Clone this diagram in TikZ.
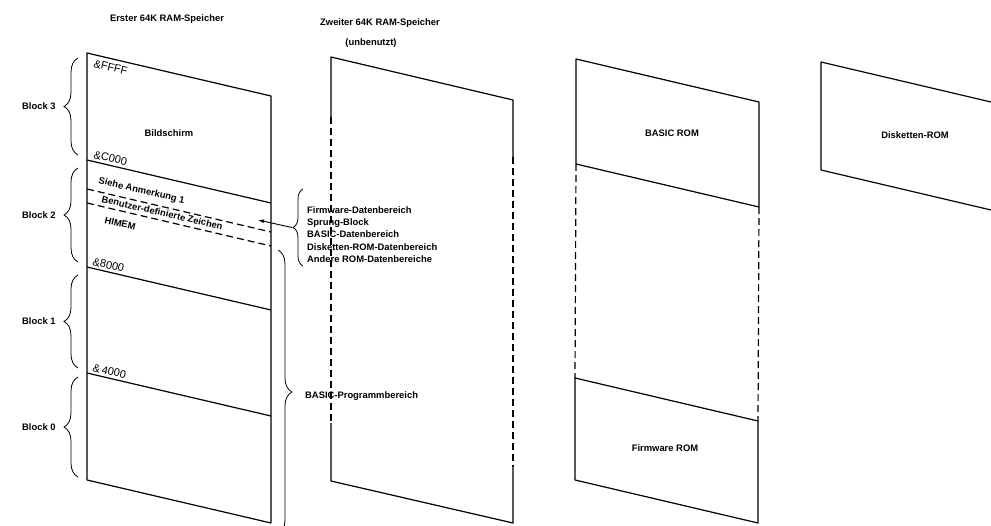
\documentclass[tikz,border=0pt]{standalone}
\usepackage{fontspec}
\setmainfont{Liberation Sans}
\usetikzlibrary{arrows.meta,positioning,decorations.pathreplacing}

\tikzset{
  mem_line/.style={line width=1.2pt,line join=round},
  mem_dash/.style={line width=1.2pt,dash pattern=on 7pt off 4pt},
  lbl/.style={font=\fontsize{9.4}{11}\selectfont\bfseries,inner sep=0pt},
  addr/.style={font=\fontsize{11}{12}\selectfont,inner sep=0pt,rotate=-13,anchor=base west},
  slant_lbl/.style={font=\fontsize{9.4}{11}\selectfont\bfseries,inner sep=0pt,rotate=-13,anchor=base west},
  brace_l/.style={decorate,decoration={brace,amplitude=#1},line width=0.8pt},
  brace_l/.default=14pt
}

\begin{document}
\begin{tikzpicture}[>=Latex,x=1pt,y=-1pt]
\useasboundingbox (0,0) rectangle (991,525);

% erster RAM
\coordinate (ra_tl) at (87,53);   \coordinate (ra_tr) at (271,96);
\coordinate (ra_c_l) at (87,160); \coordinate (ra_c_r) at (271,203);
\coordinate (ra_8_l) at (87,267); \coordinate (ra_8_r) at (271,310);
\coordinate (ra_4_l) at (87,373); \coordinate (ra_4_r) at (271,416);
\coordinate (ra_bl) at (87,480);  \coordinate (ra_br) at (271,523);
\coordinate (ra_d1_l) at (87,189); \coordinate (ra_d1_r) at (271,232);
\coordinate (ra_d2_l) at (87,203); \coordinate (ra_d2_r) at (271,246);
\draw[mem_line] (ra_tl) -- (ra_tr) -- (ra_br) -- (ra_bl) -- cycle;
\draw[mem_line] (ra_c_l) -- (ra_c_r);
\draw[mem_line] (ra_8_l) -- (ra_8_r);
\draw[mem_line] (ra_4_l) -- (ra_4_r);
\draw[mem_dash] (ra_d1_l) -- (ra_d1_r);
\draw[mem_dash] (ra_d2_l) -- (ra_d2_r);

\node[lbl] (ttl_a) at (167,19) {Erster 64K RAM-Speicher};
\node[lbl] (scr) at (169,133) {Bildschirm};
\node[addr] (adr_ffff) at (93,67) {\&FFFF};
\node[addr] (adr_c000) at (93,158) {\&C000};
\node[addr] (adr_8000) at (92,265) {\&8000};
\node[addr] (adr_4000) at (92,371) {\&\,4000};
\node[slant_lbl] (note_1) at (98,183.5) {Siehe Anmerkung 1};
\node[slant_lbl] (udg) at (101,202) {Benutzer-definierte Zeichen};
\node[slant_lbl] (himem) at (104,223) {HIMEM};

\draw[brace_l] (78,155) -- (78,58) node[midway,left=22pt,lbl] (blk_3) {Block 3};
\draw[brace_l] (78,262) -- (78,168) node[midway,left=22pt,lbl] (blk_2) {Block 2};
\draw[brace_l] (78,368) -- (78,275) node[midway,left=22pt,lbl] (blk_1) {Block 1};
\draw[brace_l] (78,477) -- (78,377) node[midway,left=22pt,lbl] (blk_0) {Block 0};

\draw[brace_l=10pt] (303,266) -- (303,189);
\coordinate (fw_tip) at (292,227.5);
\coordinate (fw_into) at (258,220);
\draw[->,line width=0.9pt,-{Latex[length=6pt,width=4pt]}] (fw_tip) -- (fw_into);
\node[lbl,font=\fontsize{9.4}{12.3}\selectfont\bfseries,align=left,anchor=west] (fw_list) at (307,234.5) {Firmware-Datenbereich\\Sprung-Block\\BASIC-Datenbereich\\Disketten-ROM-Datenbereich\\Andere ROM-Datenbereiche};

\draw[brace_l] (278,250) -- (278,534);
\node[lbl,anchor=west] (prog) at (305,396) {BASIC-Programmbereich};

% zweiter RAM
\coordinate (rb_tl) at (331,57);  \coordinate (rb_tr) at (513,100);
\coordinate (rb_bl) at (331,481); \coordinate (rb_br) at (513,523);
\coordinate (rb_l1) at (331,117); \coordinate (rb_l2) at (331,423);
\coordinate (rb_r1) at (513,157); \coordinate (rb_r2) at (513,467);
\draw[mem_line] (rb_l1) -- (rb_tl) -- (rb_tr) -- (rb_r1);
\draw[mem_line] (rb_l2) -- (rb_bl) -- (rb_br) -- (rb_r2);
\draw[mem_dash] (rb_l1) -- (rb_l2);
\draw[mem_dash] (rb_r1) -- (rb_r2);
\node[lbl] (ttl_b) at (380,23) {Zweiter 64K RAM-Speicher};
\node[lbl] (ttl_b2) at (371,43) {(unbenutzt)};

% ROMs
\coordinate (rc_tl) at (576,59);  \coordinate (rc_tr) at (759,102);
\coordinate (rc_bl) at (576,164); \coordinate (rc_br) at (759,207);
\coordinate (rd_tl) at (575,378); \coordinate (rd_tr) at (758,421);
\coordinate (rd_bl) at (575,480); \coordinate (rd_br) at (758,523);
\draw[mem_line] (rc_tl) -- (rc_tr) -- (rc_br) -- (rc_bl) -- cycle;
\draw[mem_line] (rd_tl) -- (rd_tr) -- (rd_br) -- (rd_bl) -- cycle;
\draw[mem_dash] (rc_bl) -- (rd_tl);
\draw[mem_dash] (rc_br) -- (rd_tr);
\node[lbl] (basic_rom) at (672,133) {BASIC ROM};
\node[lbl] (fw_rom) at (665,448) {Firmware ROM};

\coordinate (re_tl) at (821,62);  \coordinate (re_tr) at (991,102);
\coordinate (re_bl) at (821,170); \coordinate (re_br) at (991,210);
\draw[mem_line] (re_tr) -- (re_tl) -- (re_bl) -- (re_br);
\node[lbl] (disk_rom) at (915,135) {Disketten-ROM};
\end{tikzpicture}
\end{document}
